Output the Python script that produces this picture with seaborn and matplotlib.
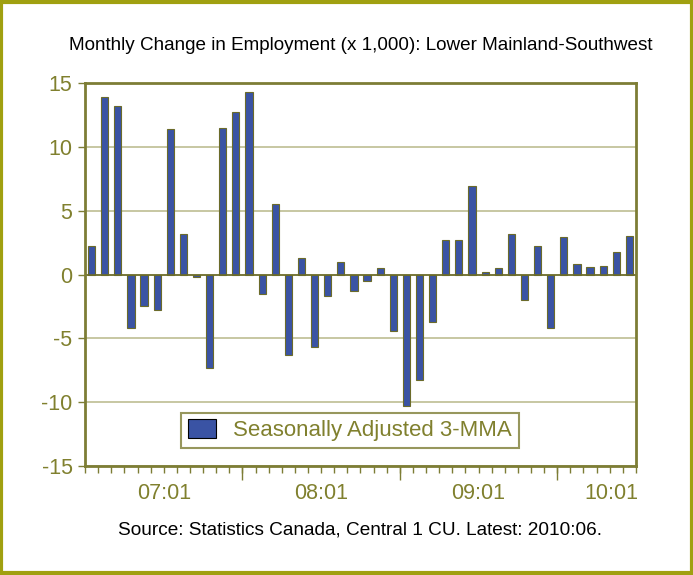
import pandas as pd
import matplotlib.pyplot as plt
import seaborn as sns
from matplotlib.patches import Rectangle

# monthly change in employment (x 1,000), 3-month moving average, 2007:01 - 2010:06
months = [p.strftime("%y:%m") for p in pd.period_range("2007-01", "2010-06", freq="M")]
change = [2.2, 13.9, 13.2, -4.2, -2.5, -2.8, 11.4, 3.2, -0.2, -7.3, 11.5, 12.7,
          14.3, -1.5, 5.5, -6.3, 1.3, -5.7, -1.7, 1.0, -1.3, -0.5, 0.5, -4.4,
          -10.3, -8.3, -3.7, 2.7, 2.7, 6.9, 0.2, 0.5, 3.2, -2.0, 2.2, -4.2,
          2.9, 0.8, 0.6, 0.7, 1.8, 3.0]
year_labels = ["07:01", "08:01", "09:01", "10:01"]
label_pos = [5.5, 17.5, 29.5, 39.6]
year_bounds = [11.5, 23.5, 35.5]

olive = "#80802e"
frame = "#7d7d35"
grid = "#bdbd92"
bar_blue = "#3a53a4"

df = pd.DataFrame({"month": months, "change": change})

sns.set_style("white")
plt.rcParams["font.family"] = ["Liberation Sans", "DejaVu Sans"]
plt.rcParams["axes.unicode_minus"] = False

fig = plt.figure(figsize=(6.93, 5.75), dpi=100)
ax = fig.add_axes([0.1227, 0.1896, 0.795, 0.666])

sns.barplot(data=df, x="month", y="change", order=months, color=bar_blue,
            saturation=1, width=0.55, edgecolor="#6b6b2a", linewidth=0.8,
            label="Seasonally Adjusted 3-MMA", ax=ax)

ax.set_xlim(-0.5, len(months) - 0.5)
ax.set_ylim(-15, 15)
ax.set_yticks(range(-15, 16, 5))
ax.yaxis.grid(True, color=grid, linewidth=1.2)
ax.set_axisbelow(True)
ax.axhline(0, color="#6b6b2a", linewidth=1.2, zorder=1)

ax.set_xticks(label_pos)
ax.set_xticklabels(year_labels)
ax.set_xticks([i - 0.5 for i in range(len(months) + 1)], minor=True)
ax.xaxis.remove_overlapping_locs = False
ax.tick_params(axis="x", which="major", length=0, pad=12, labelsize=15.5, labelcolor=olive)
ax.tick_params(axis="x", which="minor", length=5, width=1, color=frame, bottom=True)
ax.tick_params(axis="y", length=5, width=1, color=frame, left=True, labelsize=15.5,
               labelcolor=olive, pad=4)
ax.set_xlabel("")
ax.set_ylabel("")

sec = ax.secondary_xaxis("bottom")
sec.set_xticks(year_bounds)
sec.set_xticklabels([])
sec.tick_params(length=10, width=1, color=frame)
sec.spines["bottom"].set_visible(False)

for s in ax.spines.values():
    s.set_color(frame)
    s.set_linewidth(2)

leg = ax.legend(loc="lower left", bbox_to_anchor=(0.174, 0.047), fontsize=16,
                frameon=True, fancybox=False, borderpad=0.3, handlelength=1.3,
                handleheight=0.9, handletextpad=0.75, borderaxespad=0)
leg.get_frame().set_edgecolor(frame)
leg.get_frame().set_linewidth(1.5)
for t in leg.get_texts():
    t.set_color(olive)
for h in leg.legend_handles:
    h.set_edgecolor("black")

fig.text(0.52, 0.92, "Monthly Change in Employment (x 1,000): Lower Mainland-Southwest",
         ha="center", va="center", fontsize=13.6, color="black")
fig.text(0.519, 0.078, "Source: Statistics Canada, Central 1 CU. Latest: 2010:06.",
         ha="center", va="center", fontsize=13.7, color="black")

fig.patches.append(Rectangle((0.002, 0.003), 0.996, 0.994, transform=fig.transFigure,
                             fill=False, edgecolor="#a0a010", linewidth=3))

fig.savefig("out.png", dpi=100)
